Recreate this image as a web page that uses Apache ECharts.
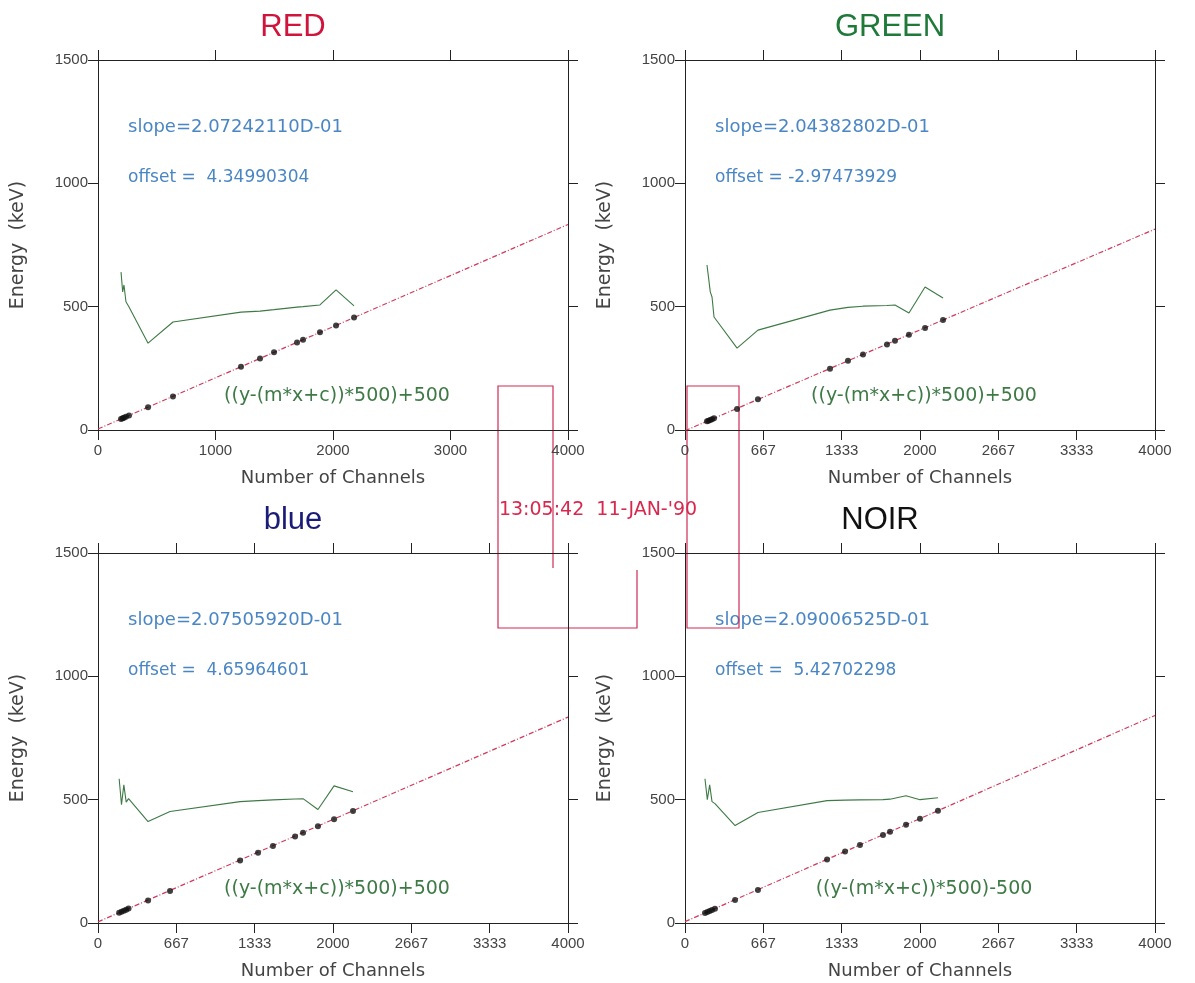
<!DOCTYPE html>
<html>
<head>
<meta charset="utf-8">
<script src="https://cdn.jsdelivr.net/npm/echarts@6/dist/echarts.min.js"></script>
<style>
  html, body { margin: 0; padding: 0; background: #fff; }
  #chart { width: 1195px; height: 983px; }
</style>
</head>
<body>
<div id="chart"></div>
<script>
// Energy calibration of four detector channels: measured peaks, linear fit,
// and scaled residuals ((y-(m*x+c))*500)+500.

const panelTitles = ['RED', 'GREEN', 'blue', 'NOIR'];
const titleColors = ['#d0143c', '#1f7a3a', '#1b1b78', '#111111'];
const titleCenters = [293, 890, 293, 880];

const slopes  = [2.07242110e-1, 2.04382802e-1, 2.07505920e-1, 2.09006525e-1];
const offsets = [4.34990304, -2.97473929, 4.65964601, 5.42702298];
const residualSigns = ['+', '+', '+', '-'];

// peak channels, peak energies (keV) and scaled residuals per detector
const redChannels   = [196, 210, 221, 238, 264, 426, 638, 1217, 1379, 1498, 1694, 1745, 1889, 2026, 2179];
const redEnergy     = [45, 48, 50, 54, 59, 92, 136, 256, 290, 315, 355, 366, 396, 424, 456];
const redResidual   = [640, 560, 588, 520, 499, 352, 438, 478, 482, 488, 498, 500, 507, 568, 503];

const greenChannels = [187, 200, 215, 230, 247, 443, 621, 1234, 1387, 1515, 1719, 1787, 1906, 2043, 2196];
const greenEnergy   = [35, 38, 41, 44, 48, 85, 125, 248, 281, 306, 347, 362, 386, 414, 446];
const greenResidual = [669, 620, 560, 539, 458, 332, 405, 486, 497, 502, 505, 507, 474, 580, 535];

const blueChannels  = [180, 200, 220, 240, 260, 426, 613, 1209, 1362, 1489, 1677, 1745, 1872, 2009, 2170];
const blueEnergy    = [42, 46, 50, 54, 59, 91, 130, 253, 285, 312, 351, 366, 392, 421, 454];
const blueResidual  = [585, 480, 560, 490, 504, 411, 452, 492, 496, 499, 503, 504, 460, 556, 532];

const noirChannels  = [170, 190, 210, 230, 255, 426, 621, 1209, 1362, 1489, 1685, 1745, 1881, 2000, 2153];
const noirEnergy    = [41, 45, 49, 53, 58, 93, 134, 257, 290, 316, 357, 370, 398, 423, 455];
const noirResidual  = [585, 500, 560, 492, 484, 395, 448, 496, 498, 499, 500, 502, 516, 500, 508];

// tick positions and labels
const xTicksThousands = [0, 1000, 2000, 3000, 4000];
const xLabelsThousands = ['0', '1000', '2000', '3000', '4000'];
const xTicksThirds = [0, 4000 / 6, 8000 / 6, 2000, 16000 / 6, 20000 / 6, 4000];
const xLabelsThirds = ['0', '667', '1333', '2000', '2667', '3333', '4000'];

const stamp = "13:05:42  11-JAN-'90";

const channels = [redChannels, greenChannels, blueChannels, noirChannels];
const energies = [redEnergy, greenEnergy, blueEnergy, noirEnergy];
const residuals = [redResidual, greenResidual, blueResidual, noirResidual];
const xTickSets = [xTicksThousands, xTicksThirds, xTicksThirds, xTicksThirds];
const xLabelSets = [xLabelsThousands, xLabelsThirds, xLabelsThirds, xLabelsThirds];

const FONT = 'Liberation Sans, Arial, sans-serif';
const WIDE = 'DejaVu Sans, Verdana, sans-serif';
const X_MAX = 4000;

const layout = [
  { left: 98,  top: 60 },
  { left: 685, top: 60 },
  { left: 98,  top: 553 },
  { left: 685, top: 553 }
];
const GW = 470, GH = 370;

const chart = echarts.init(document.getElementById('chart'), null, { renderer: 'canvas' });

const grid = [], xAxis = [], yAxis = [], series = [], graphic = [];

const axisLineStyle = { color: '#222', width: 1 };
const labelStyle = { color: '#444', fontSize: 15, fontFamily: FONT };
const nameStyle = { color: '#444', fontSize: 18, fontFamily: WIDE };

layout.forEach((g, i) => {
  grid.push({ left: g.left, top: g.top, width: GW, height: GH, containLabel: false });

  const ticks = xTickSets[i];
  const labels = xLabelSets[i];
  const labelOf = v => {
    const k = ticks.findIndex(t => Math.abs(t - v) < 1e-6);
    return k >= 0 ? labels[k] : '';
  };

  // bottom (labelled) and top (ticks only) x axes
  xAxis.push({
    type: 'value', gridIndex: i, min: 0, max: X_MAX, position: 'bottom',
    name: 'Number of Channels', nameLocation: 'middle', nameGap: 39,
    nameTextStyle: nameStyle,
    axisLine: { show: true, onZero: false, lineStyle: axisLineStyle },
    axisTick: { show: true, inside: false, length: 10, customValues: ticks, lineStyle: axisLineStyle },
    axisLabel: { show: true, margin: 13, customValues: ticks, formatter: labelOf, ...labelStyle },
    splitLine: { show: false }
  });
  xAxis.push({
    type: 'value', gridIndex: i, min: 0, max: X_MAX, position: 'top',
    axisLine: { show: true, onZero: false, lineStyle: axisLineStyle },
    axisTick: { show: true, inside: false, length: 10, customValues: ticks, lineStyle: axisLineStyle },
    axisLabel: { show: false },
    splitLine: { show: false }
  });

  // left (labelled) and right (ticks only) y axes
  yAxis.push({
    type: 'value', gridIndex: i, min: 0, max: 1500, interval: 500, position: 'left',
    name: 'Energy  (keV)', nameLocation: 'middle', nameGap: 70,
    nameTextStyle: { ...nameStyle, fontSize: 19 },
    axisLine: { show: true, onZero: false, lineStyle: axisLineStyle },
    axisTick: { show: true, inside: false, length: 10, lineStyle: axisLineStyle },
    axisLabel: { show: true, margin: 10, formatter: v => String(v), ...labelStyle },
    splitLine: { show: false }
  });
  yAxis.push({
    type: 'value', gridIndex: i, min: 0, max: 1500, interval: 500, position: 'right',
    axisLine: { show: true, onZero: false, lineStyle: axisLineStyle },
    axisTick: { show: true, inside: false, length: 10, lineStyle: axisLineStyle },
    axisLabel: { show: false },
    splitLine: { show: false }
  });

  const xi = 2 * i, yi = 2 * i;
  const m = slopes[i], c = offsets[i];

  // linear fit E = m*x + c across the channel range
  series.push({
    type: 'line', xAxisIndex: xi, yAxisIndex: yi, silent: true,
    data: [[0, c], [X_MAX, m * X_MAX + c]],
    showSymbol: false, symbol: 'none',
    lineStyle: { color: '#d23a5a', width: 1.2, type: [5, 2, 1, 2] },
    z: 2
  });

  // scaled residual curve
  series.push({
    type: 'line', xAxisIndex: xi, yAxisIndex: yi, silent: true,
    data: channels[i].map((ch, k) => [ch, residuals[i][k]]),
    showSymbol: false, symbol: 'none',
    lineStyle: { color: '#3d7a45', width: 1.1 },
    z: 3
  });

  // measured peaks
  series.push({
    type: 'scatter', xAxisIndex: xi, yAxisIndex: yi, silent: true,
    data: channels[i].map((ch, k) => [ch, energies[i][k]]),
    symbol: 'circle', symbolSize: 6,
    itemStyle: { color: '#111' },
    z: 4
  });

  // panel texts
  graphic.push({
    type: 'text', x: titleCenters[i], y: g.top - 33,
    style: { text: panelTitles[i], fill: titleColors[i], font: '31px ' + FONT, textAlign: 'center', textVerticalAlign: 'middle' }
  });
  const mant = (m * 10).toFixed(8);
  graphic.push({
    type: 'text', x: g.left + 30, y: g.top + 67,
    style: { text: 'slope=' + mant + 'D-01', fill: '#4a86c4', font: '18px ' + WIDE, textVerticalAlign: 'middle' }
  });
  graphic.push({
    type: 'text', x: g.left + 30, y: g.top + 118,
    style: { text: 'offset = ' + (c < 0 ? '' : ' ') + c.toFixed(8), fill: '#4a86c4', font: '17px ' + WIDE, textVerticalAlign: 'middle' }
  });
  graphic.push({
    type: 'text', x: g.left + 239, y: g.top + 336,
    style: { text: '((y-(m*x+c))*500)' + residualSigns[i] + '500', fill: '#3d7a45', font: '19px ' + WIDE, textAlign: 'center', textVerticalAlign: 'middle' }
  });
});

// date stamp and zoom-window outlines between the panels
graphic.push({
  type: 'text', x: 598, y: 510,
  style: { text: stamp, fill: '#d8284e', font: '19px ' + WIDE, textAlign: 'center', textVerticalAlign: 'middle' }
});
graphic.push({
  type: 'polyline', silent: true,
  shape: { points: [[553, 568], [553, 386], [498, 386], [498, 628], [637, 628], [637, 570]] },
  style: { stroke: '#cf2a55', lineWidth: 1.2, fill: null }
});
graphic.push({
  type: 'rect', silent: true,
  shape: { x: 687, y: 386, width: 52, height: 242 },
  style: { stroke: '#cf2a55', lineWidth: 1.2, fill: null }
});

chart.setOption({
  backgroundColor: '#ffffff',
  animation: false,
  grid, xAxis, yAxis, series, graphic
});
</script>
</body>
</html>
